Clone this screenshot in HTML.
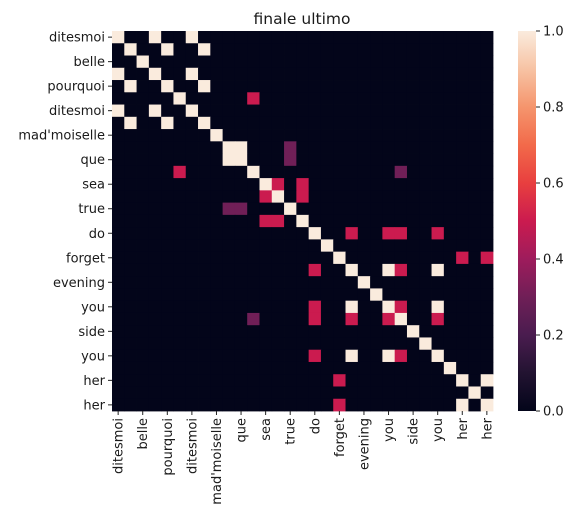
<!DOCTYPE html>
<html><head><meta charset="utf-8"><style>
body{margin:0;background:#fff;}
svg text{font-family:"DejaVu Sans","Liberation Sans",sans-serif;fill:#1a1a1a;}
</style></head><body>
<svg id="chart" width="579" height="526" viewBox="0 0 579 526" xmlns="http://www.w3.org/2000/svg">
<defs>
<linearGradient id="cbgrad" x1="0" y1="1" x2="0" y2="0">
<stop offset="0" stop-color="#03051a"/><stop offset="0.1" stop-color="#221331"/><stop offset="0.2" stop-color="#4a1c4f"/><stop offset="0.3" stop-color="#701f57"/><stop offset="0.4" stop-color="#9e1c5c"/><stop offset="0.5" stop-color="#cb1b4f"/><stop offset="0.6" stop-color="#e83f3f"/><stop offset="0.7" stop-color="#f26a4a"/><stop offset="0.8" stop-color="#f5956d"/><stop offset="0.9" stop-color="#f7c3a4"/><stop offset="1" stop-color="#faebdd"/>
</linearGradient>
</defs>
<text x="302" y="24" text-anchor="middle" font-size="15.5">finale ultimo</text>
<g id="cells"></g>
<g id="yticks"></g>
<g id="xticks"></g>
<rect x="518" y="31" width="18" height="380" fill="url(#cbgrad)"/>
<g id="cbticks"></g>
</svg>
<script>
const N = 31;
const tickLabels = ["ditesmoi","belle","pourquoi","ditesmoi","mad'moiselle","que","sea","true","do","forget","evening","you","side","you","her","her"];
const fullCells = [[0,0],[0,3],[0,6],[1,1],[1,4],[1,7],[2,2],[3,3],[3,6],[4,4],[4,7],[5,5],[6,6],[7,7],[8,8],[9,9],[9,10],[10,10],[11,11],[12,12],[13,13],[14,14],[15,15],[16,16],[17,17],[18,18],[19,19],[19,22],[19,26],[20,20],[21,21],[22,22],[22,26],[23,23],[24,24],[25,25],[26,26],[27,27],[28,28],[28,30],[29,29],[30,30]];
const halfCells = [[5,11],[12,13],[12,15],[13,15],[16,19],[16,22],[16,23],[16,26],[18,28],[18,30],[19,23],[22,23],[23,26]];
const lowCells = [[9,14],[10,14],[11,23]];
const fullValue = 1.0, halfValue = 0.5, lowValue = 0.3;
const cbTicks = [0,0.2,0.4,0.6,0.8,1.0];

const X0=112, Y0=31, W=381, H=380, cw=W/N, ch=H/N;
const xs = c => X0 + c*cw, ys = r => Y0 + r*ch;
const stops=[[0,[3,5,26]],[0.1,[34,19,49]],[0.2,[74,28,79]],[0.3,[112,31,87]],[0.4,[158,28,92]],[0.5,[203,27,79]],[0.6,[232,63,63]],[0.7,[242,106,74]],[0.8,[245,149,109]],[0.9,[247,195,164]],[1,[250,235,221]]];
function color(v){for(let i=1;i<stops.length;i++){if(v<=stops[i][0]+1e-9){const a=stops[i-1],b=stops[i],t=(v-a[0])/(b[0]-a[0]);return 'rgb('+a[1].map((x,k)=>Math.round(x+(b[1][k]-x)*t)).join(',')+')';}}return 'rgb(250,235,221)';}
const M = Array.from({length:N},()=>Array(N).fill(0));
function put(list,v){list.forEach(([i,j])=>{M[i][j]=v;M[j][i]=v;});}
put(lowCells,lowValue);put(halfCells,halfValue);put(fullCells,fullValue);
const NS="http://www.w3.org/2000/svg";
const g=document.getElementById('cells');
for(let r=0;r<N;r++)for(let c=0;c<N;c++){
  const el=document.createElementNS(NS,'rect');
  el.setAttribute('x',xs(c));el.setAttribute('y',ys(r));
  el.setAttribute('width',cw+0.4);el.setAttribute('height',ch+0.4);
  el.setAttribute('fill',color(M[r][c]));
  
  
  g.appendChild(el);
}
const yg=document.getElementById('yticks'), xg=document.getElementById('xticks');
tickLabels.forEach((lab,k)=>{
  const idx=k*2, cy=ys(idx)+ch/2, cx=xs(idx)+cw/2;
  const t=document.createElementNS(NS,'line');
  t.setAttribute('x1',X0-4);t.setAttribute('x2',X0);t.setAttribute('y1',cy);t.setAttribute('y2',cy);t.setAttribute('stroke','#222');
  
  
  yg.appendChild(t);
  const tx=document.createElementNS(NS,'text');
  tx.setAttribute('x',X0-7);tx.setAttribute('y',cy+4.5);tx.setAttribute('text-anchor','end');tx.setAttribute('font-size','13');
  tx.textContent=lab;
  
  
  yg.appendChild(tx);
  const t2=document.createElementNS(NS,'line');
  t2.setAttribute('x1',cx);t2.setAttribute('x2',cx);t2.setAttribute('y1',Y0+H);t2.setAttribute('y2',Y0+H+4);t2.setAttribute('stroke','#222');
  
  
  xg.appendChild(t2);
  const tx2=document.createElementNS(NS,'text');
  tx2.setAttribute('transform','translate('+(cx+4.5)+','+(Y0+H+7)+') rotate(-90)');
  tx2.setAttribute('text-anchor','end');tx2.setAttribute('font-size','13');
  tx2.textContent=lab;
  
  
  xg.appendChild(tx2);
});
const cg=document.getElementById('cbticks');
cbTicks.forEach(v=>{
  const y=Y0+H-v*H;
  const l=document.createElementNS(NS,'line');
  l.setAttribute('x1',536);l.setAttribute('x2',540);l.setAttribute('y1',y);l.setAttribute('y2',y);l.setAttribute('stroke','#222');
  
  
  cg.appendChild(l);
  const t=document.createElementNS(NS,'text');
  t.setAttribute('x',543);t.setAttribute('y',y+4.5);t.setAttribute('font-size','13');
  t.textContent=v.toFixed(1);
  
  
  cg.appendChild(t);
});
</script>
</body></html>
